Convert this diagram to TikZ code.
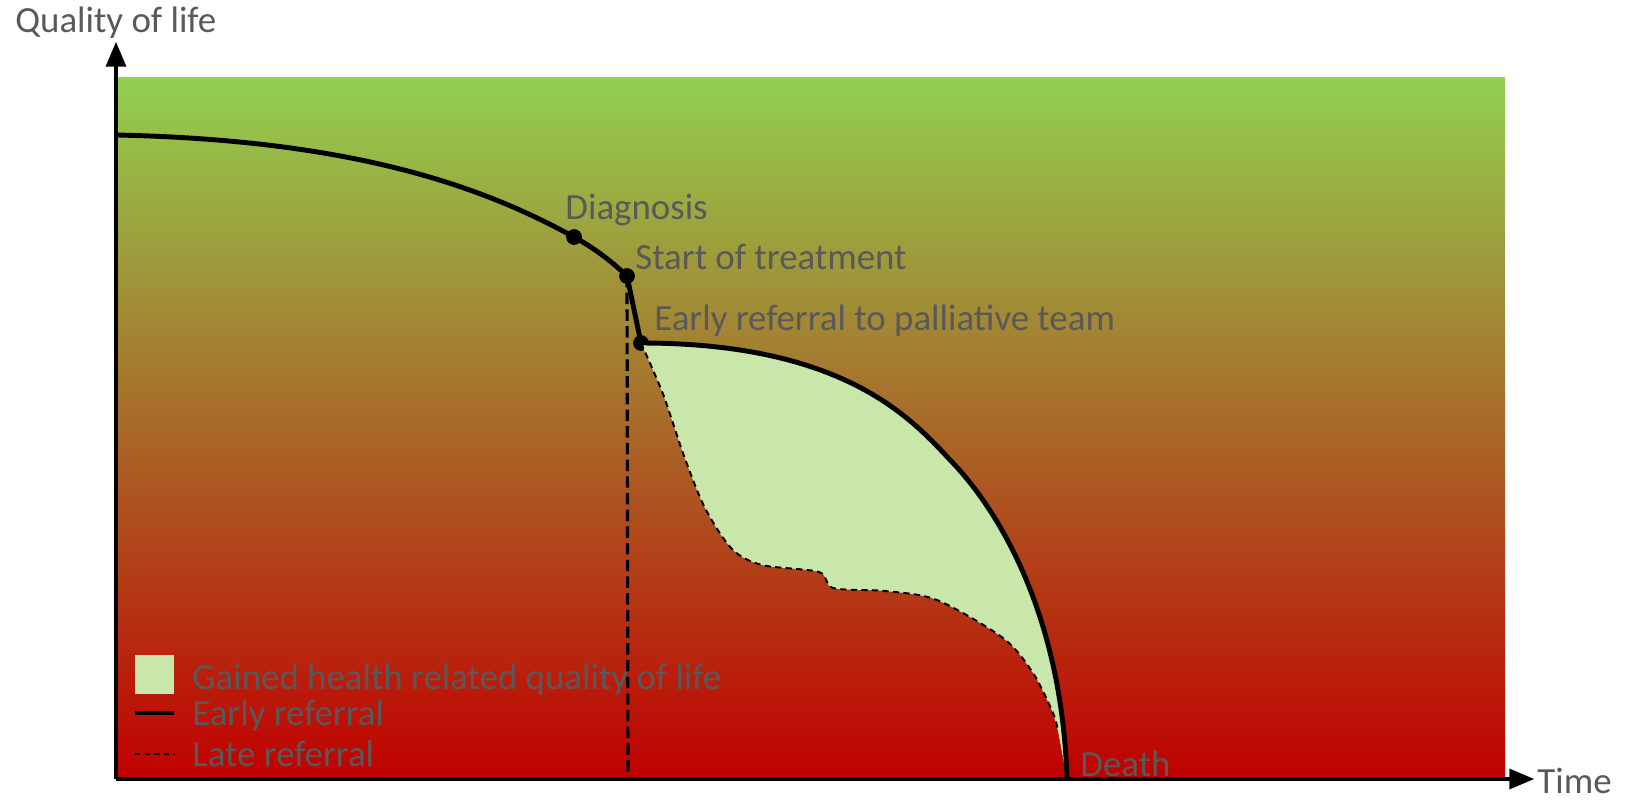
\documentclass[tikz,border=0pt]{standalone}
\usepackage{fontspec}
\setmainfont{Carlito}
\usetikzlibrary{arrows}

\definecolor{qolgreen}{HTML}{92D050}
\definecolor{qolred}{HTML}{C00000}
\definecolor{gained}{HTML}{C9E7AB}
\definecolor{labelgray}{HTML}{595959}

\begin{document}
\begin{tikzpicture}[x=0.02cm,y=-0.02cm]
	\tikzstyle{every node}=[inner sep=0pt, text=labelgray, font=\fontsize{21}{25}\selectfont]
	\tikzstyle{dot}=[circle, fill=black, minimum size=9pt]
	\tikzstyle{lbl}=[anchor=base west]
	\tikzstyle{axis}=[line width=2.3pt, -triangle 45]
	\tikzstyle{earlyline}=[line width=2.8pt]
	\tikzstyle{lateline}=[line width=1.1pt, dash pattern=on 3.5pt off 2.5pt]
	\useasboundingbox (0,0) rectangle (1625,799);
	\shade[top color=qolgreen, bottom color=qolred] (117,77) rectangle (1505,779);
	% key points
	\coordinate (origin) at (116,779);
	\coordinate (ytip) at (116,42);
	\coordinate (xtip) at (1534,779);
	\coordinate (start) at (117,135);
	\coordinate (bend) at (953,463);
	\coordinate (death) at (1067,779);
	\coordinate (meet) at (1058,731);
	\coordinate (treatfoot) at (628,779);
	\node[dot] (diag) at (574,237) {};
	\node[dot] (treat) at (627,276) {};
	\node[dot] (early) at (641,343) {};
	% gained quality of life
	\fill[gained] (early.center) .. controls (850,343) and (915,423) .. (bend)
		.. controls (1003,516) and (1062,620) .. (death) -- (meet)
		-- plot[smooth] coordinates {(1053,713) (1033,673) (1003,638) (937,600) (885,591) (833,588) (819,572) (762,565) (732,549) (705,508) (684,456) (663,394) (early.center)} -- cycle;
	% legend
	\node[fill=gained, minimum size=22.3pt] (keygain) at (154.5,674.5) {};
	\draw[earlyline] (135,713) -- (174,713);
	\draw[line width=0.8pt, dash pattern=on 3pt off 2.5pt] (135,754) -- (174,754);
	\node[lbl] (gaintext) at (192,689) {Gained health related quality of life};
	\node[lbl] (earlytext) at (192,725) {Early referral};
	\node[lbl] (latetext) at (192,766) {Late referral};
	% late referral
	\draw[line width=1.8pt, dash pattern=on 6.5pt off 3pt] (treat.center) -- (treatfoot);
	\draw[lateline] plot[smooth] coordinates {(early.center) (663,394) (684,456) (705,508) (732,549) (762,565) (819,572) (833,588) (885,591) (937,600) (1003,638) (1033,673) (1053,713) (meet)};
	% early referral
	\draw[earlyline] (start) .. controls (350,140) and (480,185) .. (diag.center)
		.. controls (594,248) and (610,260) .. (treat.center) -- (early.center)
		.. controls (850,343) and (915,423) .. (bend)
		.. controls (1003,516) and (1062,620) .. (death);
	% axes
	\draw[axis] (origin) -- (ytip);
	\draw[axis] (origin) -- (xtip);
	% labels
	\node[lbl] (qol) at (15,32) {Quality of life};
	\node[lbl] (time) at (1537,793) {Time};
	\node[lbl] (diaglabel) at (565,219) {Diagnosis};
	\node[lbl] (treatlabel) at (635,269) {Start of treatment};
	\node[lbl] (earlylabel) at (654,330) {Early referral to palliative team};
	\node[lbl] (deathlabel) at (1080,776) {Death};
\end{tikzpicture}
\end{document}
